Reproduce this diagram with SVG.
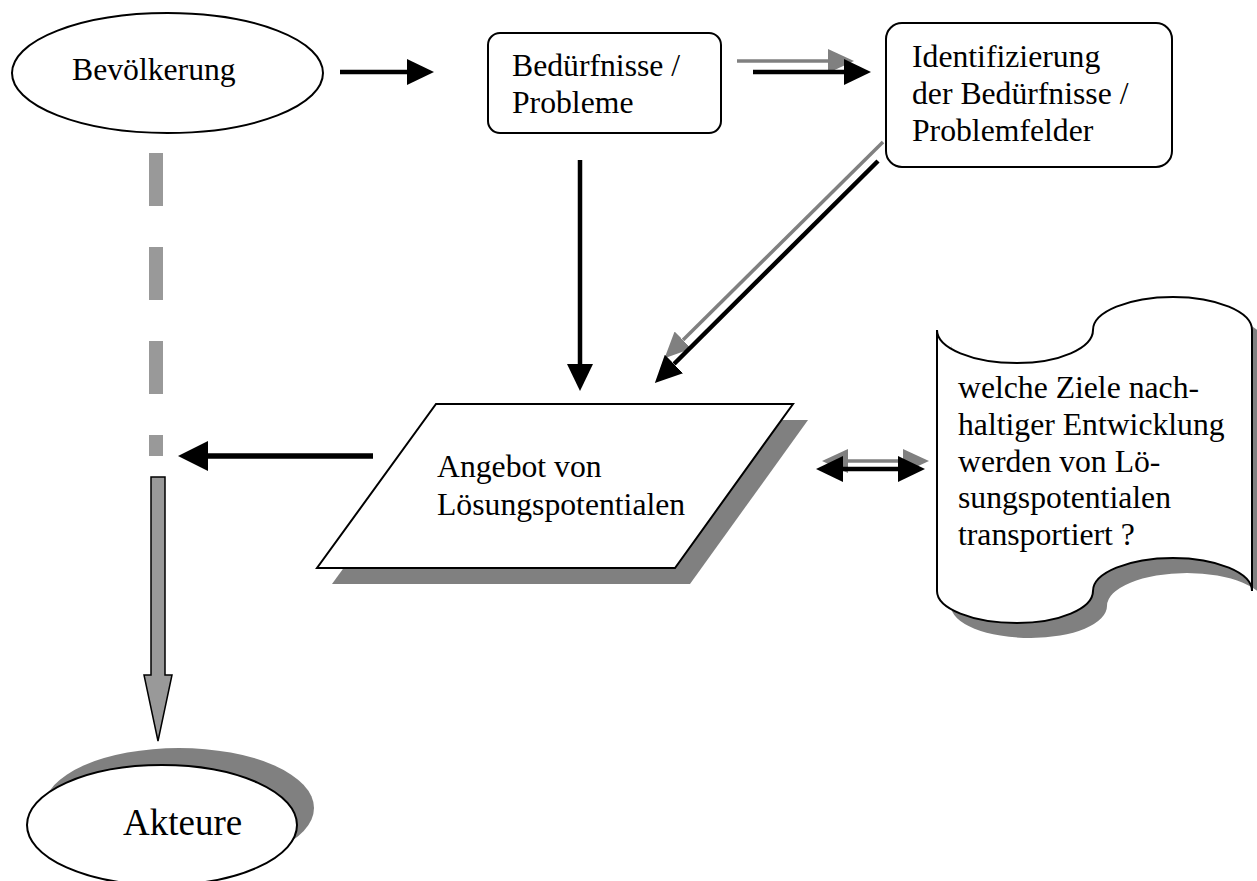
<svg xmlns="http://www.w3.org/2000/svg" width="1257" height="881" viewBox="0 0 1257 881">
<style>
.t{font-family:"Liberation Serif","Times New Roman",serif;font-size:31.7px;fill:#000}
.big{font-size:37px}
.shape{fill:#fff;stroke:#000;stroke-width:2}
.shadow{fill:#808080;stroke:none}
.blk{stroke:#000;stroke-width:4.5;fill:none}
.gry{stroke:#808080;stroke-width:3.5;fill:none}
</style>
<defs>
<marker id="hb" markerUnits="userSpaceOnUse" markerWidth="27" markerHeight="26" refX="0" refY="13" orient="auto-start-reverse"><path d="M0,0 L27,13 L0,26 z" fill="#000"/></marker>
<marker id="hg" markerUnits="userSpaceOnUse" markerWidth="26" markerHeight="24" refX="0" refY="12" orient="auto-start-reverse"><path d="M0,0 L26,12 L0,24 z" fill="#808080"/></marker>
<marker id="hbl" markerUnits="userSpaceOnUse" markerWidth="30" markerHeight="30" refX="0" refY="15" orient="auto"><path d="M0,0 L30,15 L0,30 z" fill="#000"/></marker>
</defs>

<g id="bevoelkerung">
<ellipse class="shape" cx="167.5" cy="73" rx="155.5" ry="60"/>
<text class="t" x="72" y="80">Bevölkerung</text>
</g>

<g id="beduerfnisse">
<rect class="shape" x="488" y="33" width="233" height="100" rx="12"/>
<text class="t" x="512" y="76">Bedürfnisse /</text>
<text class="t" x="512" y="113">Probleme</text>
</g>

<g id="identifizierung">
<rect class="shape" x="886" y="23" width="286" height="144" rx="16"/>
<text class="t" x="912" y="67">Identifizierung</text>
<text class="t" x="912" y="104">der Bedürfnisse /</text>
<text class="t" x="912" y="141">Problemfelder</text>
</g>

<g id="angebot">
<polygon class="shadow" points="451,420 808,420 690,584 332,584"/>
<polygon class="shape" points="436,404 793,404 675,568 317,568"/>
<text class="t" x="437" y="477">Angebot von</text>
<text class="t" x="437" y="515">Lösungspotentialen</text>
</g>

<g id="ziele">
<path class="shadow" transform="translate(14,15)" d="M937,330 A80,33 0 0 0 1017,363 A76,33 0 0 0 1093,330 A80,33 0 0 1 1173,297 A79,33 0 0 1 1252,330 L1252,591 A79,33 0 0 0 1173,558 A80,33 0 0 0 1093,591 A76,32 0 0 1 1017,623 A80,32 0 0 1 937,591 Z"/>
<path class="shape" d="M937,330 A80,33 0 0 0 1017,363 A76,33 0 0 0 1093,330 A80,33 0 0 1 1173,297 A79,33 0 0 1 1252,330 L1252,591 A79,33 0 0 0 1173,558 A80,33 0 0 0 1093,591 A76,32 0 0 1 1017,623 A80,32 0 0 1 937,591 Z"/>
<text class="t" x="958" y="398">welche Ziele nach-</text>
<text class="t" x="958" y="435">haltiger Entwicklung</text>
<text class="t" x="958" y="472">werden von Lö-</text>
<text class="t" x="958" y="508">sungspotentialen</text>
<text class="t" x="958" y="545">transportiert ?</text>
</g>

<g id="akteure">
<ellipse class="shadow" cx="179" cy="808" rx="135" ry="60"/>
<ellipse class="shape" cx="162" cy="825" rx="135" ry="60"/>
<text class="t big" x="123" y="835">Akteure</text>
</g>

<g id="connectors">
<line class="blk" x1="340" y1="72" x2="407" y2="72" marker-end="url(#hb)"/>
<line class="gry" x1="737" y1="61" x2="828" y2="61" marker-end="url(#hg)"/>
<line class="blk" x1="753" y1="72" x2="844" y2="72" marker-end="url(#hb)"/>
<line class="blk" x1="580" y1="160" x2="580" y2="364" marker-end="url(#hb)"/>
<line class="gry" x1="883" y1="142" x2="683" y2="340" marker-end="url(#hg)"/>
<line class="blk" x1="878" y1="161" x2="674" y2="364" marker-end="url(#hb)"/>
<line class="blk" style="stroke-width:5.5" x1="373" y1="456" x2="208" y2="456" marker-end="url(#hbl)"/>
<line class="gry" x1="848" y1="461" x2="903" y2="461" marker-start="url(#hg)" marker-end="url(#hg)"/>
<line class="blk" x1="843" y1="469" x2="898" y2="469" marker-start="url(#hb)" marker-end="url(#hb)"/>
<line x1="156" y1="153" x2="156" y2="456" stroke="#999" stroke-width="14" stroke-dasharray="53 41"/>
<polygon points="151,477 165,477 165,675 172,675 158,741 144,675 151,675" fill="#999" stroke="#000" stroke-width="1.5"/>
</g>
</svg>
